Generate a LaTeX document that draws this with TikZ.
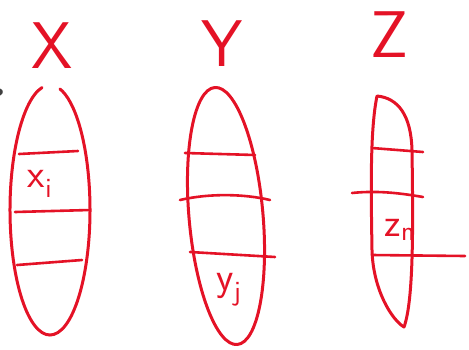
\documentclass[tikz,border=0pt]{standalone}
\usepackage{tikz}
\usetikzlibrary{positioning}
\usepackage{xcolor}
\definecolor{inkred}{RGB}{228,18,38}
\tikzset{
  pen/.style   ={draw=inkred, line width=3pt, line cap=round, line join=round},   % hand strokes
  rung/.style  ={draw=inkred, line width=2.6pt, line cap=round},                  % cross lines
  head/.style  ={text=inkred, font=\fontsize{66}{66}\selectfont\sffamily, inner sep=0pt},
  elbl/.style  ={text=inkred, font=\fontsize{40}{40}\selectfont\sffamily, inner sep=0pt},
  cut/.style   ={text=black!75, font=\fontsize{30}{30}\selectfont\bfseries, inner sep=0pt},
}

\begin{document}
\begin{tikzpicture}[x=1pt, y=1pt]
  \useasboundingbox (0,0) rectangle (469,-349);
  % set names
  \node[head] (hx) at (52,-46) {X};
  \node[head] (hy) at (222,-44) {Y};
  \node[head] (hz) at (389,-35) {Z};
  \node[cut, anchor=east] (frag) at (5,-99) {?};
  % X: open at the top
  \draw[pen] (50,-210) ++(101.5:40 and 125) arc [start angle=101.5, end angle=435.5, x radius=40, y radius=125];
  \draw[rung] (19,-154) -- (78,-151);
  \draw[rung] (15,-212) -- (90,-210);
  \draw[rung] (17,-265) -- (82,-260);
  \node[elbl] (xi) at (40,-184) {x\textsubscript{i}};
  % Y: tilted ellipse
  \draw[pen, rotate around={5:(226,-216)}] (226,-216) ellipse [x radius=37, y radius=129];
  \draw[rung] (185,-153) -- (255,-155);
  \draw[rung] (180,-200) .. controls (210,-193) and (245,-194) .. (270,-200);
  \draw[rung] (190,-252) -- (275,-257);
  \node[elbl] (yj) at (229,-290) {y\textsubscript{j}};
  % Z: narrow loop
  \draw[pen] (377,-96) .. controls (398,-98) and (411,-115) .. (412,-150)
             .. controls (413,-220) and (414,-300) .. (404,-327)
             .. controls (392,-320) and (373,-290) .. (372,-250)
             .. controls (371,-190) and (370,-130) .. (377,-96);
  \draw[rung] (372,-148) -- (423,-152);
  \draw[rung] (352,-193) .. controls (380,-190) and (405,-194) .. (423,-197);
  \draw[rung] (372,-255) -- (465,-256);
  \node[elbl] (zn) at (400,-230) {z\textsubscript{n}};
\end{tikzpicture}
\end{document}
